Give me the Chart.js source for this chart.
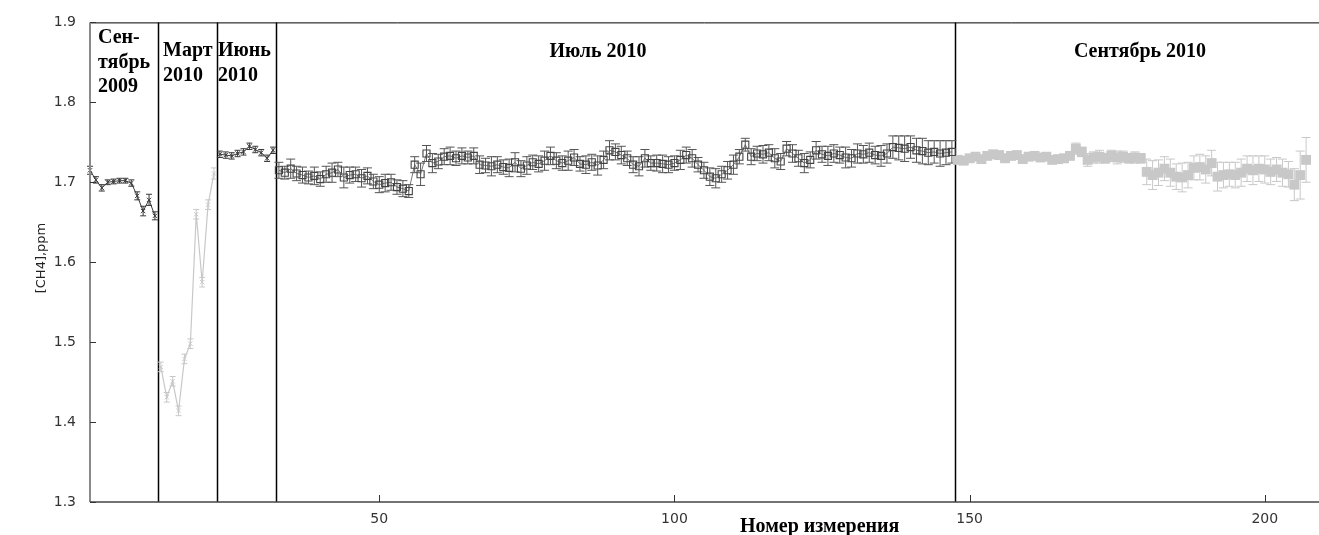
<!DOCTYPE html>
<html><head><meta charset="utf-8">
<script src="https://cdn.jsdelivr.net/npm/chart.js@4.4.0/dist/chart.umd.min.js"></script>
<style>html,body{margin:0;padding:0;background:#fff;overflow:hidden}canvas{display:block}</style>
</head><body><canvas id="c" width="1319" height="535"></canvas>
<script>
// ---- data (measurement number starts + CH4 values, ppm) ----
const sep09Start = 1;
const sep09 = [1.715,1.703,1.693,1.700,1.701,1.702,1.702,1.699,1.683,1.664,1.678,1.658];
const sep09Err = [0.005,0.004,0.004,0.003,0.003,0.003,0.003,0.004,0.005,0.006,0.007,0.005];

const mar10Start = 13;
const mar10 = [1.469,1.431,1.451,1.414,1.479,1.498,1.660,1.575,1.672,1.711];
const mar10Err = [0.006,0.006,0.006,0.006,0.006,0.006,0.006,0.006,0.006,0.007];

const jun10Start = 23;
const jun10 = [1.735,1.734,1.733,1.736,1.738,1.745,1.741,1.737,1.730,1.740];
const jun10Err = [0.004,0.004,0.004,0.004,0.004,0.004,0.004,0.004,0.004,0.004];

const jul10Start = 33;
const jul10 = [1.715,1.712,1.717,1.711,1.709,1.706,1.708,1.704,1.710,1.712,
1.716,1.706,1.709,1.710,1.705,1.708,1.701,1.697,1.699,1.700,
1.694,1.692,1.689,1.722,1.710,1.736,1.724,1.726,1.732,1.733,
1.730,1.733,1.731,1.733,1.722,1.721,1.720,1.722,1.719,1.718,
1.725,1.717,1.721,1.725,1.723,1.727,1.733,1.727,1.724,1.727,
1.731,1.723,1.722,1.725,1.721,1.728,1.740,1.738,1.734,1.730,
1.722,1.720,1.730,1.724,1.724,1.723,1.722,1.724,1.728,1.734,
1.730,1.722,1.715,1.707,1.705,1.710,1.715,1.722,1.732,1.747,
1.732,1.736,1.735,1.737,1.730,1.726,1.742,1.736,1.730,1.724,
1.728,1.740,1.735,1.733,1.736,1.734,1.731,1.730,1.736,1.735,
1.737,1.734,1.733,1.736,1.744,1.743,1.742,1.744,1.740,1.739,
1.737,1.738,1.736,1.737,1.738];
const jul10Err = [0.010,0.008,0.012,0.009,0.010,0.008,0.011,0.009,0.010,0.012,
0.009,0.013,0.010,0.009,0.011,0.010,0.009,0.010,0.011,0.010,
0.009,0.010,0.008,0.010,0.014,0.010,0.012,0.009,0.010,0.011,
0.009,0.010,0.008,0.010,0.011,0.009,0.012,0.010,0.009,0.011,
0.012,0.010,0.011,0.009,0.010,0.012,0.011,0.010,0.009,0.012,
0.010,0.009,0.011,0.010,0.012,0.011,0.012,0.010,0.011,0.009,
0.010,0.012,0.011,0.009,0.010,0.011,0.010,0.009,0.012,0.010,
0.011,0.009,0.010,0.011,0.012,0.010,0.011,0.012,0.009,0.008,
0.010,0.009,0.011,0.010,0.012,0.010,0.009,0.011,0.010,0.012,
0.010,0.011,0.010,0.012,0.011,0.010,0.013,0.011,0.012,0.011,
0.012,0.011,0.013,0.012,0.014,0.015,0.016,0.014,0.015,0.016,
0.015,0.014,0.016,0.015,0.014];

const sep10Start = 148;
const sep10 = [1.728,1.727,1.730,1.732,1.729,1.733,1.735,1.734,1.730,1.733,
1.734,1.729,1.732,1.733,1.731,1.732,1.728,1.729,1.730,1.733,
1.742,1.738,1.728,1.731,1.732,1.730,1.733,1.731,1.732,1.730,
1.731,1.730,1.713,1.709,1.712,1.717,1.712,1.707,1.706,1.709,
1.718,1.719,1.716,1.724,1.707,1.709,1.710,1.709,1.712,1.717,
1.715,1.717,1.716,1.713,1.716,1.712,1.710,1.697,1.709,1.728];
const sep10Err = [0.004,0.004,0.004,0.004,0.004,0.004,0.004,0.004,0.004,0.004,
0.004,0.004,0.004,0.004,0.004,0.004,0.004,0.004,0.004,0.004,
0.007,0.006,0.008,0.007,0.008,0.006,0.007,0.008,0.007,0.006,
0.007,0.006,0.016,0.018,0.016,0.015,0.017,0.016,0.018,0.016,
0.015,0.016,0.017,0.016,0.018,0.016,0.015,0.016,0.017,0.016,
0.018,0.016,0.017,0.016,0.015,0.017,0.016,0.020,0.030,0.028];

const periodBounds = [12.5, 22.5, 32.5, 147.5];
const periodLabels = [
  {x: 98, y: 43, lines: ['Сен-', 'тябрь', '2009'], align: 'left'},
  {x: 163, y: 56, lines: ['Март', '2010'], align: 'left'},
  {x: 218, y: 56, lines: ['Июнь', '2010'], align: 'left'},
  {x: 598, y: 57, lines: ['Июль 2010'], align: 'center'},
  {x: 1140, y: 57, lines: ['Сентябрь 2010'], align: 'center'}
];
const xTicks = [50, 100, 150, 200];
const yTicks = [1.3, 1.4, 1.5, 1.6, 1.7, 1.8, 1.9];
const xTitle = 'Номер измерения';
const yTitle = '[CH4],ppm';

function pts(start, vals, errs) {
  return vals.map((v, i) => ({x: start + i, y: v, e: errs[i]}));
}

const DARK = '#3a3a3a';
const LIGHT = '#c8c8c8';

const errorBars = {
  id: 'errorBars',
  beforeDatasetsDraw(chart) {
    const {ctx, chartArea: a, scales: {x, y}} = chart;
    ctx.save();
    ctx.strokeStyle = '#000';
    ctx.lineWidth = 1.5;
    periodBounds.forEach(b => {
      const px = Math.round(x.getPixelForValue(b)) + 0.5;
      ctx.beginPath(); ctx.moveTo(px, a.top); ctx.lineTo(px, a.bottom); ctx.stroke();
    });
    ctx.lineWidth = 1;
    ctx.beginPath(); ctx.moveTo(a.left, a.top + 0.5); ctx.lineTo(chart.width, a.top + 0.5); ctx.stroke();
    chart.data.datasets.forEach(ds => {
      ctx.strokeStyle = ds.errColor;
      ctx.lineWidth = 1;
      const cap = ds.capHalf;
      ds.data.forEach(p => {
        const px = x.getPixelForValue(p.x);
        const y1 = y.getPixelForValue(p.y + p.e);
        const y2 = y.getPixelForValue(p.y - p.e);
        ctx.beginPath();
        ctx.moveTo(px, y1); ctx.lineTo(px, y2);
        ctx.moveTo(px - cap, y1); ctx.lineTo(px + cap, y1);
        ctx.moveTo(px - cap, y2); ctx.lineTo(px + cap, y2);
        ctx.stroke();
      });
    });
    ctx.restore();
  },
  afterDatasetsDraw(chart) {
    const {ctx, chartArea: a, scales: {x, y}} = chart;
    ctx.save();
    ctx.strokeStyle = '#8a8a8a';
    ctx.lineWidth = 2;
    ctx.beginPath(); ctx.moveTo(a.left, a.top); ctx.lineTo(a.left, a.bottom); ctx.stroke();
    ctx.strokeStyle = '#444';
    ctx.lineWidth = 1.5;
    ctx.beginPath(); ctx.moveTo(a.left, a.bottom); ctx.lineTo(chart.width, a.bottom); ctx.stroke();
    ctx.lineWidth = 1;
    ctx.strokeStyle = '#333';
    yTicks.forEach(v => {
      const py = Math.round(y.getPixelForValue(v)) + 0.5;
      ctx.beginPath(); ctx.moveTo(a.left, py); ctx.lineTo(a.left + 6, py); ctx.stroke();
    });
    xTicks.forEach(v => {
      const px = Math.round(x.getPixelForValue(v)) + 0.5;
      ctx.beginPath(); ctx.moveTo(px, a.bottom); ctx.lineTo(px, a.bottom - 7); ctx.stroke();
    });
    ctx.fillStyle = '#000';
    ctx.font = 'bold 20px "Liberation Serif", "DejaVu Serif", serif';
    ctx.textBaseline = 'alphabetic';
    periodLabels.forEach(l => {
      ctx.textAlign = l.align;
      l.lines.forEach((t, i) => ctx.fillText(t, l.x, l.y + i * 24.5));
    });
    ctx.textAlign = 'left';
    ctx.fillText(xTitle, 740, 532);
    ctx.font = '13px "DejaVu Sans", sans-serif';
    ctx.fillStyle = '#222';
    ctx.translate(45, 258);
    ctx.rotate(-Math.PI / 2);
    ctx.textAlign = 'center';
    ctx.fillText(yTitle, 0, 0);
    ctx.restore();
  }
};

new Chart(document.getElementById('c'), {
  type: 'scatter',
  data: {
    datasets: [
      {data: pts(sep09Start, sep09, sep09Err), showLine: true, borderColor: DARK, borderWidth: 1,
       pointStyle: 'crossRot', pointRadius: 3, pointBorderColor: DARK, pointBorderWidth: 1,
       errColor: DARK, capHalf: 3},
      {data: pts(mar10Start, mar10, mar10Err), showLine: true, borderColor: LIGHT, borderWidth: 1.2,
       pointStyle: 'crossRot', pointRadius: 3, pointBorderColor: LIGHT, pointBorderWidth: 1,
       errColor: LIGHT, capHalf: 3},
      {data: pts(jun10Start, jun10, jun10Err), showLine: true, borderColor: DARK, borderWidth: 1,
       pointStyle: 'crossRot', pointRadius: 3, pointBorderColor: DARK, pointBorderWidth: 1,
       errColor: DARK, capHalf: 3},
      {data: pts(jul10Start, jul10, jul10Err), showLine: true, borderColor: '#555', borderWidth: 0.8,
       pointStyle: 'rect', pointRadius: 5, pointBackgroundColor: 'rgba(255,255,255,0)',
       pointBorderColor: '#444', pointBorderWidth: 1.1, errColor: '#555', capHalf: 4.5},
      {data: pts(sep10Start, sep10, sep10Err), showLine: false,
       pointStyle: 'rect', pointRadius: 7, pointBackgroundColor: LIGHT,
       pointBorderColor: LIGHT, pointBorderWidth: 0, errColor: LIGHT, capHalf: 4.5}
    ]
  },
  options: {
    responsive: false,
    devicePixelRatio: 1,
    animation: false,
    clip: false,
    layout: {padding: {left: 0, right: 2, top: 20, bottom: 0}},
    plugins: {legend: {display: false}, tooltip: {enabled: false}},
    scales: {
      x: {
        type: 'linear', min: 1, max: 208,
        afterFit: s => { s.height = 33; },
        afterBuildTicks: s => { s.ticks = xTicks.map(v => ({value: v})); },
        grid: {display: false, drawTicks: false}, border: {display: false},
        ticks: {color: '#333', font: {family: 'DejaVu Sans', size: 14}, padding: 9,
                maxRotation: 0, autoSkip: false, callback: v => String(v)}
      },
      y: {
        min: 1.3, max: 1.9,
        afterFit: s => { s.width = 90; },
        afterBuildTicks: s => { s.ticks = yTicks.map(v => ({value: v})); },
        grid: {display: false, drawTicks: false}, border: {display: false},
        ticks: {color: '#333', font: {family: 'DejaVu Sans', size: 14}, padding: 14,
                callback: v => v.toFixed(1)}
      }
    }
  },
  plugins: [errorBars]
});
</script>
</body></html>
